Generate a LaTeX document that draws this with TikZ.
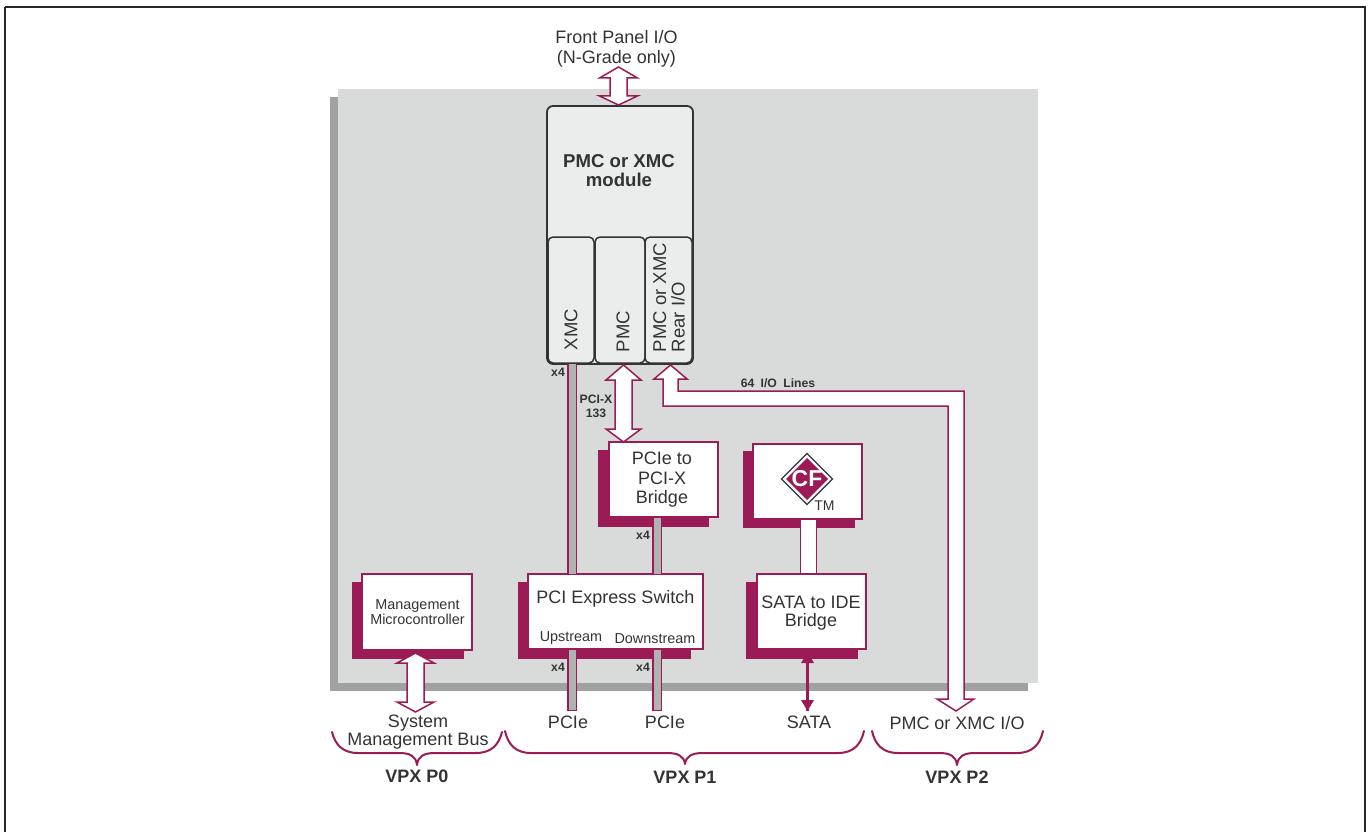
\documentclass[tikz,border=0pt]{standalone}
\usepackage{fontspec}
\setmainfont{Liberation Sans}
\usetikzlibrary{shapes.geometric,calc}
\definecolor{mag}{HTML}{9B1B57}
\definecolor{board}{HTML}{D9DBDB}
\definecolor{boardsh}{HTML}{A0A2A1}
\definecolor{modfill}{HTML}{EBEDEC}
\definecolor{busgray}{HTML}{B1B3B2}
\definecolor{ink}{HTML}{333333}
\newcommand{\fa}{\fontsize{18}{19.5}\selectfont}
\newcommand{\fe}{\fontsize{18.5}{18.5}\selectfont}
\newcommand{\fb}{\fontsize{14.4}{15}\selectfont}
\newcommand{\fc}{\fontsize{12.2}{14}\selectfont\bfseries}
\newcommand{\fd}{\fontsize{18}{19}\selectfont\bfseries}
\tikzset{
  x=1pt,y=-1pt,
  every node/.style={text=ink,inner sep=0pt,outer sep=0pt,align=center},
  lab/.style={font=\fa},
  celllab/.style={font=\fe,rotate=90,anchor=west},
  smalllab/.style={font=\fb},
  tiny/.style={font=\fc},
  head/.style={font=\fd},
  shadowfill/.style={fill=mag,draw=none},
  whitebox/.style={draw=mag,fill=white,line width=1.5pt,anchor=north west},
  modulebox/.style={draw=ink,fill=modfill,line width=1.8pt,rounded corners=6pt,anchor=north west},
  cellbox/.style={draw=ink,fill=modfill,line width=1.5pt,rounded corners=5pt,anchor=north west},
  blockarrow/.style={draw=mag,fill=white,line width=1.5pt,miter limit=10},
  busout/.style={draw=mag,line width=10pt},
  busin/.style={draw=busgray,line width=7pt},
  bracket/.style={draw=mag,line width=2pt,line cap=round,line join=round},
}
% box: name, x1, y1, x2, y2, style
\newcommand{\bx}[6]{\node[#6,minimum width=#4pt-#2pt,minimum height=#5pt-#3pt] (#1) at (#2,#3) {};}
% vertical double block arrow between named coordinates: half shaft, half head, head len top, head len bottom
\newcommand{\dblarrow}[6]{\draw[blockarrow] (#1) -- ++(#4,#5) -- ++(-#4+#3,0) -- ($(#2)+(#3,-#6)$) -- ++(#4-#3,0) -- (#2) -- ++(-#4,-#6) -- ++(#4-#3,0) -- ($(#1)+(-#3,#5)$) -- ++(-#4+#3,0) -- cycle;}
\newcommand{\vpxbrace}[6]{\draw[bracket] (#1,#4) .. controls (#1+3,#5-9) and (#1+10,#5) .. (#1+26,#5) -- (#2-18,#5) .. controls (#2-7,#5) and (#2-1,#5+3) .. (#2,#6) .. controls (#2+1,#5+3) and (#2+7,#5) .. (#2+18,#5) -- (#3-26,#5) .. controls (#3-10,#5) and (#3-3,#5-9) .. (#3,#4);}
\begin{document}
\begin{tikzpicture}
\useasboundingbox (0,0) rectangle (1369,832);
% outer frame
\draw[black!85,line width=2.2pt] (5,7) -- (1365,7) -- (1365,840) (5,7) -- (5,840);
% board
\fill[boardsh] (330,97) rectangle (1028,691);
\fill[board] (338,89) rectangle (1038,683);
% module
\bx{module}{547}{106}{693}{364}{modulebox}
\node[font=\fontsize{18.6}{19.5}\selectfont\bfseries] (modtxt) at (619,170.5) {PMC or XMC\\module};
\bx{xmc}{548}{237}{594}{363}{cellbox}
\bx{pmc}{595}{237}{645}{363}{cellbox}
\bx{rear}{645}{237}{692}{363}{cellbox}
\node[celllab] (xmctxt) at (571,350) {XMC};
\node[celllab] (pmctxt) at (623,352) {PMC};
\node[celllab,align=left] (reartxt) at (669,352) {PMC or XMC\\Rear I/O};
% shadows
\fill[shadowfill] (598,450) rectangle (709,527);
\fill[shadowfill] (743,451) rectangle (855,528);
\fill[shadowfill] (518,582) rectangle (691,659);
\fill[shadowfill] (746,582) rectangle (858,659);
\fill[shadowfill] (352,582) rectangle (464,659);
% boxes
\bx{bridge}{609}{442}{718}{517}{whitebox}
\bx{cfbox}{753}{444}{862}{519}{whitebox}
\bx{switch}{528}{574}{703}{649}{whitebox}
\bx{sata}{757}{574}{866}{649}{whitebox}
\bx{mgmt}{362}{574}{472}{650}{whitebox}
\node[lab] (bridgetxt) at (662,480) {PCIe to\\PCI-X\\Bridge};
\node[font=\fontsize{18}{17.5}\selectfont] (satatxt) at (811,613) {SATA to IDE\\Bridge};
\node[smalllab] (mgmttxt) at (417.5,612.5) {Management\\Microcontroller};
\node[lab] (swtxt) at (615.5,599) {PCI Express Switch};
\node[smalllab] (up) at (571,638.5) {Upstream};
\node[smalllab] (down) at (655,638.5) {Downstream};
% buses
\coordinate (busA) at (572,364);
\coordinate (busB) at (657,518);
\coordinate (busC) at (572,650);
\coordinate (busD) at (657,650);
\coordinate (busCe) at (572,711);
\coordinate (busDe) at (657,711);
\draw[busout] (busA) -- (busA |- switch.north);
\draw[busin] (busA) -- (busA |- switch.north);
\draw[busout] (busB) -- (busB |- switch.north);
\draw[busin] (busB) -- (busB |- switch.north);
\draw[busout] (busC) -- (busCe);
\draw[busin] (busC) -- ($(busCe)+(0,-1.5)$);
\draw[busout] (busD) -- (busDe);
\draw[busin] (busD) -- ($(busDe)+(0,-1.5)$);
% CF connector
\draw[draw=mag,fill=white,line width=1pt] (800,519.5) rectangle (816,573.5);
% CF logo
\node[diamond,draw=ink,fill=white,line width=1.2pt,minimum width=51pt,minimum height=51pt] (cfouter) at (807,479) {};
\node[diamond,fill=mag,minimum width=42pt,minimum height=42pt] (cflogo) at (807,479) {};
\node[text=white,font=\fontsize{23}{23}\selectfont\bfseries] (cftxt) at (807,479) {CF};
\node[font=\fontsize{14}{14}\selectfont] (tm) at (824.5,506) {TM};
% block arrows
\coordinate (frontT) at (618.5,67);
\coordinate (frontB) at (618.5,105);
\dblarrow{frontT}{frontB}{8.5}{19}{11}{9}
\coordinate (pcixT) at (623.5,365);
\coordinate (pcixB) at (623.5,442);
\dblarrow{pcixT}{pcixB}{8.5}{17.5}{15}{13}
\coordinate (smbT) at (415.5,653);
\coordinate (smbB) at (415.5,712);
\dblarrow{smbT}{smbB}{8.5}{18.5}{10}{10}
% 64 I/O
\coordinate (ioT) at (670.5,365);
\coordinate (ioB) at (956,711);
\draw[blockarrow] (ioT) -- (687,379) -- (678,379) -- (678,391) -- (964,391) -- (964,699) -- (974,699) -- (ioB) -- (937,699) -- (948,699) -- (948,406) -- (663,406) -- (663,379) -- (654,379) -- cycle;
% SATA arrow
\coordinate (sataT) at (807.5,659);
\coordinate (sataB) at (807.5,711);
\draw[mag,line width=3pt] (sataT) -- (sataB);
\fill[mag] (sataB) -- ++(-6.5,-11) -- ++(13,0) -- cycle;
\fill[mag] (sataT) ++(-6.5,4) -- ++(13,0) -- ++(-3,-5) -- ++(-7,0) -- cycle;
% labels
\node[lab] (front) at (616.5,49) {Front Panel I/O\\(N-Grade only)};
\node[tiny] (x4a) at (558,372) {x4};
\node[tiny] (pcix) at (596,406) {PCI-X\\133};
\node[tiny] (lines) at (778,383) {64\hspace{3pt} I/O\hspace{3pt} Lines};
\node[tiny] (x4b) at (643,535) {x4};
\node[tiny] (x4c) at (558,667) {x4};
\node[tiny] (x4d) at (643,667) {x4};
\node[font=\fontsize{18}{18}\selectfont] (sysbus) at (418,732) {System\\Management Bus};
\node[lab] (pcie1) at (568,722) {PCIe};
\node[lab] (pcie2) at (665,722.5) {PCIe};
\node[lab] (satal) at (809,722) {SATA};
\node[lab] (pmcio) at (957,723) {PMC or XMC I/O};
% braces
\vpxbrace{332}{417}{502}{732}{753}{765}
\vpxbrace{505}{685}{864}{731}{753}{764}
\vpxbrace{872}{957}{1043}{731}{753}{765}
\node[head] (p0) at (417,776) {VPX P0};
\node[head] (p1) at (685,777) {VPX P1};
\node[head] (p2) at (957,777) {VPX P2};
\end{tikzpicture}
\end{document}
